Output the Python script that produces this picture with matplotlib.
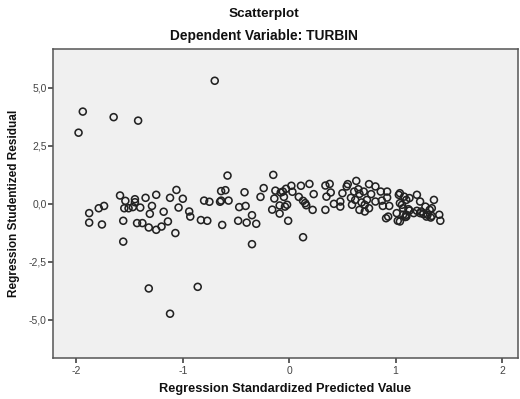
import matplotlib
matplotlib.use("Agg")
import matplotlib.pyplot as plt
from matplotlib.ticker import FuncFormatter

plt.rcParams['font.family'] = ['Liberation Sans', 'DejaVu Sans']

title = "Scatterplot"
subtitle = "Dependent Variable: TURBIN"
x_label = "Regression Standardized Predicted Value"
y_label = "Regression Studentized Residual"
x_ticks = [-2, -1, 0, 1, 2]
y_ticks = [-5.0, -2.5, 0.0, 2.5, 5.0]

# Regression standardized predicted value
pred = [
    -1.98, -1.94, -1.65, -1.42, -0.70, -1.32, -0.86, -1.12,
    -1.88, -1.88, -1.79, -1.74, -1.76, -1.59, -1.54, -1.45, -1.45, -1.55,
    -1.51, -1.47, -1.40, -1.56, -1.56, -1.35, -1.25, -1.29, -1.31, -1.43,
    -1.38, -1.32, -1.25, -1.20, -1.14, -1.18, -1.12, -1.06, -1.00, -1.04,
    -1.07, -0.94, -0.93,
    -0.58, -0.15, -0.80, -0.75, -0.64, -0.60, -0.65, -0.64, -0.57, -0.83,
    -0.77, -0.63, -0.48, -0.40, -0.31, -0.35, -0.47, -0.41, -0.35, -0.42,
    -0.27, -0.24, -0.13, -0.08, -0.06, -0.03, 0.02, 0.03, 0.11, -0.14,
    -0.05, 0.09, 0.13, -0.16, -0.09, -0.04, -0.02, -0.09, -0.01, 0.13,
    0.19, 0.23, 0.34, 0.38, 0.39, 0.35, 0.15, 0.16, 0.22, 0.34,
    0.42, 0.48, 0.48, 0.50, 0.54, 0.55, 0.63, 0.61, 0.65, 0.66,
    0.70, 0.75, 0.81, 0.77, 0.62, 0.68, 0.73, 0.71, 0.66, 0.71,
    0.75, 0.81, 0.87, 0.92, 0.86, 0.92, 0.88, 0.94, 0.91, 0.93,
    1.03, 1.08, 1.04, 1.07, 1.10, 1.01, 1.02, 1.10, 1.13, 0.58, 0.59,
    1.13, 1.20, 1.23, 1.36, 1.12, 1.20, 1.24, 1.28, 1.32, 1.34,
    1.30, 1.34, 1.41, 1.42, 1.09, 1.17, 1.23, 1.26, 1.07, 1.10,
    1.04, 1.29, 1.33, 1.04, 1.06,
]

# Regression studentized residual
resid = [
    3.07, 3.98, 3.74, 3.59, 5.31, -3.65, -3.58, -4.74,
    -0.40, -0.81, -0.19, -0.09, -0.89, 0.36, 0.13, 0.20, 0.07, -0.19,
    -0.19, -0.14, -0.16, -0.73, -1.63, 0.26, 0.39, -0.09, -0.43, -0.83,
    -0.83, -1.02, -1.12, -0.98, -0.76, -0.34, 0.26, 0.60, 0.22, -0.16,
    -1.26, -0.33, -0.55,
    1.22, 1.25, 0.14, 0.09, 0.55, 0.59, 0.09, 0.14, 0.14, -0.70,
    -0.73, -0.91, -0.73, -0.81, -0.86, -1.74, -0.14, -0.09, -0.49, 0.50,
    0.30, 0.68, 0.57, 0.49, 0.53, 0.65, 0.78, 0.52, 0.78, 0.23,
    0.30, 0.30, 0.13, -0.25, -0.07, -0.12, -0.04, -0.42, -0.73, -1.44,
    0.86, 0.42, 0.79, 0.86, 0.49, 0.31, 0.03, -0.06, -0.26, -0.26,
    0.00, 0.10, -0.12, 0.46, 0.75, 0.85, 0.99, 0.53, 0.63, 0.43,
    0.53, 0.85, 0.75, 0.42, 0.17, 0.06, 0.17, -0.04, -0.26, -0.33,
    -0.19, 0.10, 0.14, 0.53, 0.53, 0.27, -0.09, -0.09, -0.62, -0.55,
    0.39, 0.31, 0.03, -0.19, 0.17, -0.40, -0.73, -0.47, -0.29, 0.26, -0.04,
    0.25, 0.39, 0.10, 0.17, -0.23, -0.30, -0.33, -0.12, -0.26, -0.19,
    -0.47, -0.52, -0.47, -0.73, -0.57, -0.40, -0.40, -0.44, -0.47, -0.55,
    -0.76, -0.55, -0.59, 0.46, -0.04,
]

fig = plt.figure(figsize=(5.20, 3.99), dpi=100)
fig.patch.set_facecolor('white')
ax = fig.add_axes([53/520, 1 - 358/399, (518 - 53)/520, (358 - 49)/399])
ax.set_facecolor('#f0f0f0')

ax.scatter(pred, resid, s=25, facecolors='none', edgecolors='#222222',
           linewidths=1.15, zorder=3)

ax.set_xlim(-2.22, 2.15)
ax.set_ylim(-6.65, 6.68)
ax.set_xticks(x_ticks)
ax.set_yticks(y_ticks)
ax.xaxis.set_major_formatter(FuncFormatter(lambda v, p: f"{v:.0f}"))
ax.yaxis.set_major_formatter(FuncFormatter(lambda v, p: f"{v:.1f}".replace('.', ',')))

for s in ['top', 'right', 'left', 'bottom']:
    ax.spines[s].set_color('#555555')
    ax.spines[s].set_linewidth(1.1)

ax.tick_params(axis='both', direction='out', length=3.5, width=1.1,
               color='#333333', labelcolor='#444444', labelsize=7.5)
ax.tick_params(axis='x', pad=2)
ax.tick_params(axis='y', pad=1)

ax.set_xlabel(x_label, fontsize=9.2, fontweight='bold', color='#111111', labelpad=5)
ax.set_ylabel(y_label, fontsize=8.5, fontweight='bold', color='#111111', labelpad=6)

fig.text(264/520, 1 - 14/399, title, ha='center', va='center',
         fontsize=9.7, fontweight='bold', color='#111111')
fig.text(264/520, 1 - 36/399, subtitle, ha='center', va='center',
         fontsize=9.9, fontweight='bold', color='#111111')

fig.savefig('out.png', dpi=100)
